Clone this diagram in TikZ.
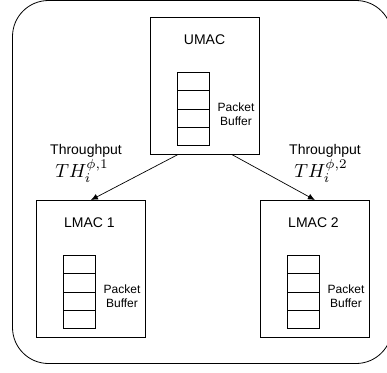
\documentclass[tikz,border=0pt]{standalone}
\usepackage{fontspec}
\setmainfont{Liberation Sans}
\usetikzlibrary{calc,arrows.meta}
\newcommand{\ratesym}[1]{\scalebox{1.9}{$TH_i^{\phi,#1}$}}
\begin{document}
\begin{tikzpicture}[x=1pt,y=-1pt,
  macbox/.style={draw,line width=0.8pt,minimum width=109pt,minimum height=137pt,inner sep=0pt,anchor=north west},
  cell/.style={draw,line width=0.8pt,minimum width=32pt,minimum height=18.25pt,inner sep=0pt,anchor=north west},
  title/.style={font=\fontsize{14}{16}\selectfont},
  buflabel/.style={font=\fontsize{12}{14}\selectfont,align=center},
  rate/.style={font=\fontsize{14}{16}\selectfont,inner sep=0pt},
  ratemath/.style={inner sep=0pt},
  link/.style={line width=0.7pt,-{Latex[length=7pt,width=6pt]}}]
\useasboundingbox (0,0) rectangle (387,372);
% enclosing frame
\draw[line width=0.8pt,rounded corners=36pt] (12.5,0.5) rectangle (392,363.5);

% upper MAC
\node[macbox] (umac) at (150,17) {};
\node[title] (umact) at (204.5,40) {UMAC};
\foreach \k in {0,1,2,3}
  \node[cell] (u\k) at (177,72+18.25*\k) {};
\node[buflabel] (ubuf) at (236,114) {Packet\\Buffer};

% lower MAC 1
\node[macbox] (lmac1) at (36,200) {};
\node[title] (l1t) at (89.5,223) {LMAC 1};
\foreach \k in {0,1,2,3}
  \node[cell] (a\k) at (63,255+18.25*\k) {};
\node[buflabel] (l1buf) at (122,296) {Packet\\Buffer};

% lower MAC 2
\node[macbox] (lmac2) at (260,200) {};
\node[title] (l2t) at (313.5,223) {LMAC 2};
\foreach \k in {0,1,2,3}
  \node[cell] (b\k) at (287,255+18.25*\k) {};
\node[buflabel] (l2buf) at (346,296) {Packet\\Buffer};

% throughput labels
\node[rate] (th1) at (86,151) {Throughput};
\node[ratemath] (th1m) at (82,171) {\ratesym{1}};
\node[rate] (th2) at (325,151) {Throughput};
\node[ratemath] (th2m) at (321,171) {\ratesym{2}};

% links
\draw[link] ($(umac.south west)!0.25!(umac.south east)$) -- (lmac1.north);
\draw[link] ($(umac.south west)!0.75!(umac.south east)$) -- (lmac2.north);
\end{tikzpicture}
\end{document}
